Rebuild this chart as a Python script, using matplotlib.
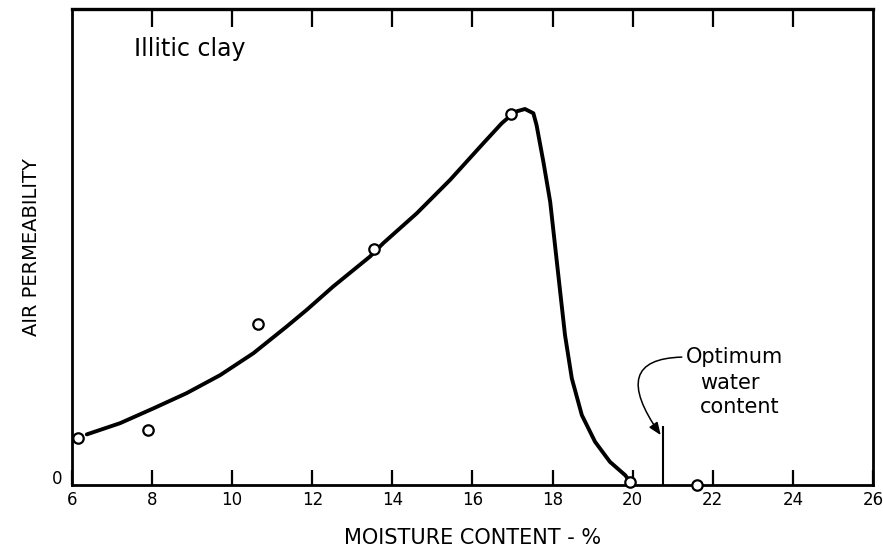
import matplotlib
matplotlib.use('Agg')
import matplotlib.pyplot as plt

# measured points (open circles)
moisture_pts = [6.16, 7.89, 10.65, 13.54, 16.95, 19.93, 21.6]
perm_pts = [0.98, 1.15, 3.38, 4.95, 7.79, 0.07, 0.0]

# hand-drawn curve
curve_x = [6.37, 7.20, 8.03, 8.86, 9.70, 10.53, 11.36, 11.86, 12.52, 13.44, 13.77,
           14.61, 15.44, 16.27, 16.73, 17.06, 17.31, 17.52, 17.60, 17.77, 17.94,
           18.06, 18.18, 18.31, 18.48, 18.73, 19.06, 19.43, 19.81, 19.93]
curve_y = [1.065, 1.30, 1.61, 1.93, 2.31, 2.77, 3.33, 3.68, 4.17, 4.80, 5.08,
           5.71, 6.41, 7.18, 7.60, 7.84, 7.90, 7.81, 7.56, 6.79, 5.95,
           5.04, 4.13, 3.15, 2.24, 1.47, 0.91, 0.49, 0.21, 0.08]

xticks = [6, 8, 10, 12, 14, 16, 18, 20, 22, 24, 26]
opt_water = 20.75
opt_top = 1.24

fig = plt.figure(figsize=(8.83, 5.5), dpi=100)
ax = fig.add_axes([0.0815, 0.118, 0.9072, 0.8656])

ax.plot(curve_x, curve_y, color='black', lw=2.8, solid_capstyle='round',
        solid_joinstyle='round', zorder=2)
ax.plot(moisture_pts, perm_pts, 'o', ms=7.5, mfc='white', mec='black', mew=1.6,
        clip_on=False, zorder=3)

# optimum water content marker
ax.vlines(opt_water, 0, opt_top, color='black', lw=1.5)
ax.annotate('Optimum', xy=(opt_water - 0.05, 1.05), xytext=(21.33, 2.69),
            ha='left', va='center', fontsize=15,
            arrowprops=dict(arrowstyle='-|>,head_length=0.5,head_width=0.2',
                            color='black', lw=1.1, relpos=(0, 0.5),
                            shrinkA=1, shrinkB=0,
                            connectionstyle='angle3,angleA=0,angleB=125'))
ax.text(21.68, 2.36, 'water\ncontent', ha='left', va='top', fontsize=15,
        linespacing=1.25)

ax.text(0.077, 0.915, 'Illitic clay', transform=ax.transAxes, fontsize=17,
        ha='left', va='center')

ax.set_xlim(6, 26)
ax.set_ylim(0, 10)
ax.set_xticks(xticks)
ax.set_xticklabels([str(t) for t in xticks], fontsize=12)
ax.tick_params(axis='x', direction='in', length=11, width=1.6, pad=4)
ax.set_yticks([])
ax.text(-0.012, 0.012, '0', transform=ax.transAxes, ha='right', va='center',
        fontsize=12)

top = ax.secondary_xaxis('top')
top.set_xticks(xticks[1:-1])
top.tick_params(direction='in', length=13, width=1.6, labeltop=False)
top.spines['top'].set_linewidth(2.4)

for s in ax.spines.values():
    s.set_linewidth(2.0)
    s.set_color('black')

ax.set_xlabel('MOISTURE CONTENT - %', fontsize=15, labelpad=14)
ax.set_ylabel('AIR PERMEABILITY', fontsize=14, labelpad=22)

fig.savefig('out.png', dpi=100)
